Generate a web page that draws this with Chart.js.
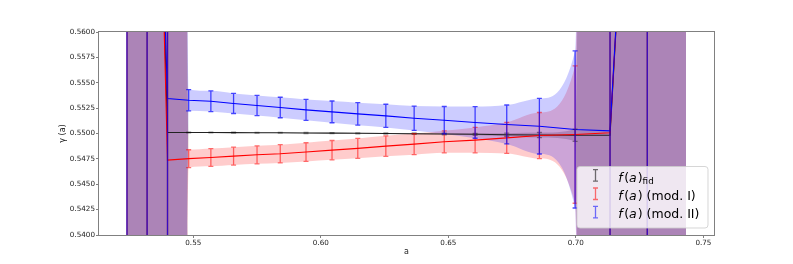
<!DOCTYPE html>
<html><head><meta charset="utf-8">
<script src="https://cdn.jsdelivr.net/npm/chart.js@4.4.0/dist/chart.umd.min.js"></script>
<style>html,body{margin:0;padding:0;background:#fff;}#wrap{width:793px;height:264px;}</style>
</head><body><div id="wrap"><canvas id="c" width="793" height="264"></canvas></div>
<script>
// ---- data ----
const aValues = [0.5240, 0.5319, 0.5399, 0.5482, 0.5569, 0.5658, 0.5750, 0.5841, 0.5942, 0.6044, 0.6145,
                 0.6255, 0.6366, 0.6484, 0.6605, 0.6729, 0.6857, 0.6997, 0.7134, 0.7280, 0.7432];
const fidValues = [0.623, 0.623, 0.55010, 0.55010, 0.55010, 0.55009, 0.55008, 0.55007, 0.55005, 0.55004, 0.55002,
                   0.55000, 0.54998, 0.54995, 0.54992, 0.54988, 0.54985, 0.54983, 0.54983, 0.615, 0.630];
const fidErrors = [1, 1, 1, 0.00004, 0.00004, 0.00004, 0.00004, 0.00004, 0.00005, 0.00005, 0.00005,
                   0.00006, 0.00007, 0.00008, 0.00010, 0.00015, 0.00025, 0.00060, 1, 1, 1];
const mod1Values = [0.626, 0.626, 0.54738, 0.54752, 0.54764, 0.54777, 0.54790, 0.54800, 0.54817, 0.54836, 0.54853,
                    0.54876, 0.54895, 0.54918, 0.54935, 0.54957, 0.54980, 0.54990, 0.55007, 0.615, 0.630];
const mod1Errors = [1, 1, 1, 0.00088, 0.00087, 0.00088, 0.00089, 0.00090, 0.00092, 0.00095, 0.00098,
                    0.00101, 0.00104, 0.00108, 0.00125, 0.00153, 0.00227, 0.00677, 1, 1, 1];
const mod2Values = [0.620, 0.620, 0.55345, 0.55328, 0.55318, 0.55296, 0.55276, 0.55256, 0.55233, 0.55213, 0.55193,
                    0.55174, 0.55150, 0.55131, 0.55109, 0.55089, 0.55072, 0.55040, 0.55026, 0.615, 0.630];
const mod2Errors = [1, 1, 1, 0.00105, 0.00102, 0.00099, 0.00099, 0.00101, 0.00103, 0.00107, 0.00111,
                    0.00114, 0.00120, 0.00135, 0.00156, 0.00192, 0.00274, 0.00774, 1, 1, 1];
const errorBarCount = 20; // error bars drawn on the first 20 samples
const xTickValues = [0.55, 0.60, 0.65, 0.70, 0.75];
const yTickValues = [0.5400, 0.5425, 0.5450, 0.5475, 0.5500, 0.5525, 0.5550, 0.5575, 0.5600];
const xRange = [0.51304, 0.75416];
const yRange = [0.5400, 0.5600];
const xTitle = 'a';
const yTitle = 'γ (a)';
const legendRows = [
  [{t:'f',it:true,sp:1.5},{t:'('},{t:'a',it:true,sp:1},{t:')'},{t:'fid',sub:true}],
  [{t:'f',it:true,sp:1.5},{t:'('},{t:'a',it:true,sp:1},{t:')'},{t:' (mod. I)'}],
  [{t:'f',it:true,sp:1.5},{t:'('},{t:'a',it:true,sp:1},{t:')'},{t:' (mod. II)'}]
];

const seriesStyles = [
  {values: fidValues, errors: fidErrors, line: '#222222', band: 'rgba(0,0,0,0.2)', bar: 'rgba(0,0,0,0.4)', legend: 'rgba(0,0,0,0.55)'},
  {values: mod1Values, errors: mod1Errors, line: '#ff0000', band: 'rgba(255,0,0,0.2)', bar: 'rgba(255,0,0,0.55)', legend: 'rgba(255,0,0,0.55)'},
  {values: mod2Values, errors: mod2Errors, line: '#0000ff', band: 'rgba(0,0,255,0.2)', bar: 'rgba(0,0,255,0.7)', legend: 'rgba(0,0,255,0.55)'}
];

const datasets = [];
seriesStyles.forEach((s, k) => {
  datasets.push({
    data: aValues.map((a, i) => ({x: a, y: s.values[i] + s.errors[i]})),
    borderWidth: 0, pointRadius: 0, fill: '+1', backgroundColor: s.band,
    cubicInterpolationMode: 'monotone', order: 20 - k, clip: 0
  });
  datasets.push({
    data: aValues.map((a, i) => ({x: a, y: s.values[i] - s.errors[i]})),
    borderWidth: 0, pointRadius: 0, fill: false, backgroundColor: 'transparent',
    cubicInterpolationMode: 'monotone', order: 20 - k, clip: 0
  });
});
seriesStyles.forEach((s, k) => {
  datasets.push({
    data: aValues.map((a, i) => ({x: a, y: s.values[i]})),
    borderColor: s.line, borderWidth: 1.1, pointRadius: 0, fill: false, tension: 0,
    order: 5 - k, clip: 0
  });
});

const AXIS_COLOR = '#808080';
const TEXT_COLOR = '#222';

function strokeErrorBar(ctx, px, t, b, cap, color, w) {
  ctx.strokeStyle = color;
  ctx.lineWidth = w;
  ctx.beginPath();
  ctx.moveTo(px, t); ctx.lineTo(px, b);
  ctx.moveTo(px - cap, t); ctx.lineTo(px + cap, t);
  ctx.moveTo(px - cap, b); ctx.lineTo(px + cap, b);
  ctx.stroke();
}

const overlayPlugin = {
  id: 'overlay',
  afterDatasetsDraw(chart) {
    const ctx = chart.ctx, ca = chart.chartArea, x = chart.scales.x, y = chart.scales.y;
    ctx.save();
    ctx.beginPath(); ctx.rect(ca.left, ca.top, ca.right - ca.left, ca.bottom - ca.top); ctx.clip();
    for (const s of seriesStyles) {
      for (let i = 0; i < errorBarCount; i++) {
        const px = x.getPixelForValue(aValues[i]);
        const t = Math.max(y.getPixelForValue(s.values[i] + s.errors[i]), ca.top - 5);
        const b = Math.min(y.getPixelForValue(s.values[i] - s.errors[i]), ca.bottom + 5);
        strokeErrorBar(ctx, px, t, b, 2.5, s.bar, 1.3);
      }
    }
    ctx.restore();
    // spines
    ctx.save();
    ctx.strokeStyle = AXIS_COLOR; ctx.lineWidth = 1;
    ctx.strokeRect(ca.left - 0.5, ca.top - 0.5, ca.right - ca.left + 1, ca.bottom - ca.top + 1);
    ctx.restore();
    // legend
    ctx.save();
    const bx = 577, by = 166.5, bw = 131, bh = 61.5, r = 3;
    ctx.beginPath();
    ctx.moveTo(bx + r, by); ctx.lineTo(bx + bw - r, by); ctx.quadraticCurveTo(bx + bw, by, bx + bw, by + r);
    ctx.lineTo(bx + bw, by + bh - r); ctx.quadraticCurveTo(bx + bw, by + bh, bx + bw - r, by + bh);
    ctx.lineTo(bx + r, by + bh); ctx.quadraticCurveTo(bx, by + bh, bx, by + bh - r);
    ctx.lineTo(bx, by + r); ctx.quadraticCurveTo(bx, by, bx + r, by); ctx.closePath();
    ctx.fillStyle = 'rgba(255,255,255,0.8)'; ctx.fill();
    ctx.strokeStyle = 'rgba(204,204,204,0.8)'; ctx.lineWidth = 1; ctx.stroke();
    const size = 12.5;
    const baselines = [181.7, 200.0, 218.4];
    legendRows.forEach((row, k) => {
      const base = baselines[k];
      strokeErrorBar(ctx, 595.5, base - 12, base - 0.5, 2.5, seriesStyles[k].legend, 1.3);
      let tx = 618.3;
      ctx.fillStyle = '#000'; ctx.textBaseline = 'alphabetic'; ctx.textAlign = 'left';
      row.forEach(run => {
        const fs = run.sub ? size * 0.7 : size;
        ctx.font = (run.it ? 'italic ' : '') + fs + 'px "DejaVu Sans"';
        ctx.fillText(run.t, tx, base + (run.sub ? 2.5 : 0));
        tx += ctx.measureText(run.t).width + (run.sp || 0);
      });
    });
    ctx.restore();
  }
};

new Chart(document.getElementById('c'), {
  type: 'line',
  data: {datasets},
  plugins: [overlayPlugin],
  options: {
    responsive: false, animation: false, devicePixelRatio: 1,
    events: [],
    layout: {padding: {top: 32, right: 79, left: 0, bottom: 0}},
    elements: {line: {capBezierPoints: false}},
    plugins: {legend: {display: false}, tooltip: {enabled: false}, title: {display: false}},
    scales: {
      x: {
        type: 'linear', min: xRange[0], max: xRange[1],
        afterFit: s => { s.height = 29; },
        afterBuildTicks: s => { s.ticks = xTickValues.map(v => ({value: v})); },
        grid: {drawOnChartArea: false, drawTicks: true, tickLength: 3, color: AXIS_COLOR},
        border: {display: false},
        ticks: {color: TEXT_COLOR, font: {family: 'DejaVu Sans', size: 7.2}, padding: 1, maxRotation: 0,
                callback: v => Number(v).toFixed(2)},
        title: {display: true, text: xTitle, color: TEXT_COLOR, font: {family: 'DejaVu Sans', size: 8},
                padding: {top: 0, bottom: 7}}
      },
      y: {
        type: 'linear', min: yRange[0], max: yRange[1],
        afterFit: s => { s.width = 99; },
        afterBuildTicks: s => { s.ticks = yTickValues.map(v => ({value: v})); },
        grid: {drawOnChartArea: false, drawTicks: true, tickLength: 3, color: AXIS_COLOR},
        border: {display: false},
        ticks: {color: TEXT_COLOR, font: {family: 'DejaVu Sans', size: 7.2}, padding: 1,
                callback: v => Number(v).toFixed(4)},
        title: {display: true, text: yTitle, color: TEXT_COLOR, font: {family: 'DejaVu Sans', size: 8},
                padding: {top: 58, bottom: 0}}
      }
    }
  }
});
</script></body></html>
